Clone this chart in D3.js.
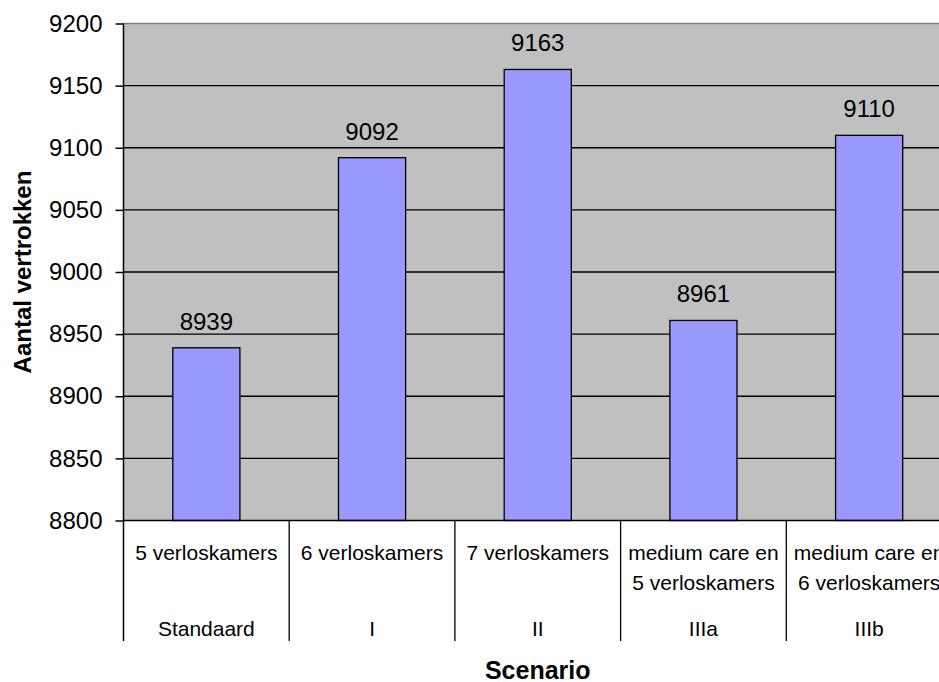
<!DOCTYPE html>
<html><head><meta charset="utf-8">
<script src="https://cdn.jsdelivr.net/npm/d3@7"></script>
<style>body{margin:0;background:#fff;} svg{display:block;font-family:"Liberation Sans",Arial,sans-serif;}</style>
</head><body>
<script>
const categories = ["Standaard", "I", "II", "IIIa", "IIIb"];
const subLabels = [["5 verloskamers"], ["6 verloskamers"], ["7 verloskamers"], ["medium care en", "5 verloskamers"], ["medium care en", "6 verloskamers"]];
const values = [8939, 9092, 9163, 8961, 9110];
const yTicks = [8800, 8850, 8900, 8950, 9000, 9050, 9100, 9150, 9200];

const W = 939, H = 682;
const m = {left: 123.5, top: 23.5, right: -13, bottom: 161.5};
const svg = d3.select("body").append("svg").attr("width", W).attr("height", H);
const x = d3.scaleBand().domain(categories).range([m.left, W - m.right]).paddingInner(0).paddingOuter(0);
const y = d3.scaleLinear().domain([8800, 9200]).range([H - m.bottom, m.top]);
const y0 = y(8800), y1 = y(9200);

// background
svg.append("rect").attr("x", m.left).attr("y", y1).attr("width", x.range()[1] - m.left).attr("height", y0 - y1).attr("fill", "#c0c0c0");
// gridlines
svg.append("g").selectAll("line").data(yTicks.slice(1, -1)).join("line")
  .attr("x1", m.left).attr("x2", x.range()[1]).attr("y1", d => y(d)).attr("y2", d => y(d))
  .attr("stroke", "#000").attr("stroke-width", 1.3);
svg.append("line").attr("x1", m.left).attr("x2", x.range()[1]).attr("y1", y1).attr("y2", y1).attr("stroke", "#808080").attr("stroke-width", 1.5);

// bars
const bw = x.bandwidth() * 0.405;
svg.append("g").selectAll("rect").data(values).join("rect")
  .attr("x", (d, i) => x(categories[i]) + x.bandwidth() / 2 - bw / 2)
  .attr("y", d => y(d)).attr("width", bw).attr("height", d => y0 - y(d))
  .attr("fill", "#9999ff").attr("stroke", "#000").attr("stroke-width", 1.3);

// data labels
svg.append("g").selectAll("text").data(values).join("text")
  .attr("x", (d, i) => x(categories[i]) + x.bandwidth() / 2)
  .attr("y", d => y(d) - 18).attr("text-anchor", "middle").attr("font-size", 24).attr("fill", "#000")
  .text(d => d);

// y axis
const yAxis = d3.axisLeft(y).tickValues(yTicks).tickSize(8).tickPadding(13).tickFormat(d3.format("d"));
const ga = svg.append("g").attr("transform", `translate(${m.left},0)`).call(yAxis);
ga.select(".domain").remove();
ga.selectAll(".tick line").attr("stroke", "#000").attr("stroke-width", 1.5);
ga.selectAll(".tick text").attr("font-size", 24).attr("fill", "#000").attr("font-family", "Liberation Sans, Arial, sans-serif");

// axis lines
const sepBottom = 641;
svg.append("line").attr("x1", m.left).attr("x2", m.left).attr("y1", y1).attr("y2", sepBottom).attr("stroke", "#000").attr("stroke-width", 1.5);
svg.append("line").attr("x1", m.left).attr("x2", x.range()[1]).attr("y1", y0).attr("y2", y0).attr("stroke", "#000").attr("stroke-width", 1.5);
svg.append("g").selectAll("line").data(categories.slice(1)).join("line")
  .attr("x1", d => x(d)).attr("x2", d => x(d)).attr("y1", y0).attr("y2", sepBottom)
  .attr("stroke", "#000").attr("stroke-width", 1.3);

// category labels
const lg = svg.append("g").attr("font-size", 21).attr("fill", "#000").attr("text-anchor", "middle");
subLabels.forEach((lines, i) => {
  lines.forEach((t, j) => {
    lg.append("text").attr("x", x(categories[i]) + x.bandwidth() / 2).attr("y", 560 + j * 30).text(t);
  });
  lg.append("text").attr("x", x(categories[i]) + x.bandwidth() / 2).attr("y", 636).text(categories[i]);
});

// titles
svg.append("text").attr("x", (m.left + x.range()[1]) / 2).attr("y", 679).attr("text-anchor", "middle")
  .attr("font-size", 25).attr("font-weight", "bold").text("Scenario");
svg.append("text").attr("transform", `translate(31,${(y0 + y1) / 2}) rotate(-90)`).attr("text-anchor", "middle")
  .attr("font-size", 24).attr("font-weight", "bold").text("Aantal vertrokken");
</script>
</body></html>
